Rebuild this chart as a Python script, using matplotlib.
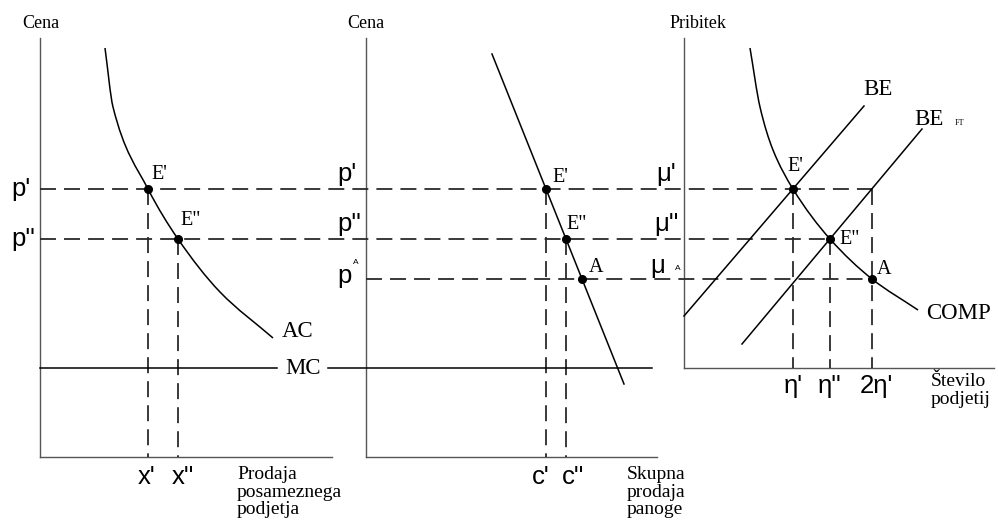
import numpy as np
import matplotlib
matplotlib.use("Agg")
import matplotlib.pyplot as plt
from matplotlib.path import Path
from matplotlib.patches import PathPatch

plt.rcParams['lines.scale_dashes'] = False
SERIF = ['Liberation Serif', 'DejaVu Serif']
SANS = ['Liberation Sans', 'DejaVu Sans']

# price / markup levels shared by the three panels
p1, p2, pA = 337, 287, 247
mc = 158
# quantities and numbers of firms
x1, x2 = 148, 178
c1, c2, cA = 546, 566, 582
n1, n2, n3 = 793, 830, 872

# panel frames
frame_x0 = [40, 366, 684]
frame_y0 = [69, 69, mc]
frame_x1 = [332, 657, 994]
frame_top = 488

# curves
ac_x = [105, 113, x1, x2, 220, 273]
ac_y = [478, 419, p1, p2, 234, 188]
comp_x = [750, 760, 773, n1, n2, n3, 918]
comp_y = [478, 419, 376, p1, p2, pA, 216]
dem_x = [492, 624]
dem_y = [472, 142]
be_x = [684, 864]
be_y = [210, 420]
beft_x = [742, 922]
beft_y = [182, 397]
mc_x = [[40, 277], [328, 652]]


def smooth(xs, ys):
    # monotone cubic (PCHIP tangents) written as Bezier segments
    x = np.asarray(xs, float)
    y = np.asarray(ys, float)
    h = np.diff(x)
    d = np.diff(y) / h
    m = np.empty_like(x)
    m[0], m[-1] = d[0], d[-1]
    for k in range(1, len(x) - 1):
        if d[k - 1] * d[k] <= 0:
            m[k] = 0.0
        else:
            w1 = 2 * h[k] + h[k - 1]
            w2 = h[k] + 2 * h[k - 1]
            m[k] = (w1 + w2) / (w1 / d[k - 1] + w2 / d[k])
    verts = [(x[0], y[0])]
    codes = [Path.MOVETO]
    for k in range(len(x) - 1):
        verts += [(x[k] + h[k] / 3, y[k] + m[k] * h[k] / 3),
                  (x[k + 1] - h[k] / 3, y[k + 1] - m[k + 1] * h[k] / 3),
                  (x[k + 1], y[k + 1])]
        codes += [Path.CURVE4] * 3
    return Path(verts, codes)


fig = plt.figure(figsize=(9.98, 5.26), dpi=100)
ax = fig.add_axes([0, 0, 1, 1])
ax.set_xlim(0, 998)
ax.set_ylim(0, 526)
ax.axis('off')

axcol = '#555555'
dcol = '#2a2a2a'
dash = dict(color=dcol, lw=1.3, linestyle=(0, (11.5, 5.8)))

# frames
for xa, ya, xb in zip(frame_x0, frame_y0, frame_x1):
    ax.plot([xa, xa], [ya, frame_top], color=axcol, lw=1.0)
    ax.plot([xa, xb], [ya, ya], color=axcol, lw=1.0)

# dashed guides
ax.plot([frame_x0[0], n3], [p1, p1], **dash)
ax.plot([frame_x0[0], n2], [p2, p2], **dash)
ax.plot([frame_x0[1], n3], [pA, pA], **dash)
for xv, yv, yb in [(x1, p1, 69), (x2, p2, 69), (c1, p1, 69), (c2, p2, 69),
                   (n1, p1, mc), (n2, p2, mc), (n3, p1, mc)]:
    ax.plot([xv, xv], [yv, yb], **dash)

# curves
ax.add_patch(PathPatch(smooth(ac_x, ac_y), fill=False, lw=1.1, color='black'))
ax.add_patch(PathPatch(smooth(comp_x, comp_y), fill=False, lw=1.1, color='black'))
ax.plot(dem_x, dem_y, color='black', lw=1.1)
ax.plot(be_x, be_y, color='black', lw=1.1)
ax.plot(beft_x, beft_y, color='black', lw=1.1)
for seg in mc_x:
    ax.plot(seg, [mc, mc], color='black', lw=1.1)

# equilibrium points
dots_x = [x1, x2, c1, c2, cA, n1, n2, n3]
dots_y = [p1, p2, p1, p2, pA, p1, p2, pA]
ax.plot(dots_x, dots_y, 'o', color='black', ms=5.5, zorder=5)

# axis titles
for xc, t in [(41, 'Cena'), (366, 'Cena'), (698, 'Pribitek')]:
    ax.text(xc, 503, t, family=SERIF, fontsize=13, ha='center', va='center')
ax.text(237, 60, 'Prodaja\nposameznega\npodjetja', family=SERIF, fontsize=14,
        ha='left', va='top', linespacing=1.05)
ax.text(627, 60, 'Skupna\nprodaja\npanoge', family=SERIF, fontsize=14,
        ha='left', va='top', linespacing=1.05)
ax.text(931, 153, 'Število\npodjetij', family=SERIF, fontsize=14,
        ha='left', va='top', linespacing=1.05)

# price tick labels
tk = dict(family=SANS, fontsize=18.5)
ax.text(11, p1, "p'", ha='left', va='center', **tk)
ax.text(11, p2, "p''", ha='left', va='center', **tk)
ax.text(337, p1 + 3, "p'", ha='left', va='bottom', **tk)
ax.text(337, p2 + 3, "p''", ha='left', va='bottom', **tk)
ax.text(337, pA - 9, "p", ha='left', va='bottom', **tk)
ax.text(353, 263, "A", family=SANS, fontsize=6, ha='left', va='center')
ax.text(656, p1 + 3, "μ'", ha='left', va='bottom', **tk)
ax.text(654, p2 + 3, "μ''", ha='left', va='bottom', **tk)
ax.text(650, pA + 1, "μ", ha='left', va='bottom', **tk)
ax.text(675, 257, "A", family=SANS, fontsize=6, ha='left', va='center')

# quantity tick labels
for xv, t in [(x1 - 1, "x'"), (x2 + 5, "x''"), (c1 - 5, "c'"), (c2 + 7, "c''")]:
    ax.text(xv, 49, t, ha='center', va='center', **tk)
for xv, t in [(n1, "η'"), (n2, "η''"), (n3 + 4, "2η'")]:
    ax.text(xv, 140, t, ha='center', va='center', **tk)

# curve and point labels
lb = dict(family=SERIF, fontsize=14.5)
for xl, yl, t in [(151, 342, "E'"), (180, 296, 'E"'), (552, 339, "E'"),
                  (566, 292, 'E"'), (589, 249, 'A'), (787, 350, "E'"),
                  (877, 247, 'A')]:
    ax.text(xl, yl, t, ha='left', va='bottom', **lb)
ax.text(839, 287, 'E"', ha='left', va='center', **lb)
big = dict(family=SERIF, fontsize=16.5)
ax.text(282, 184, 'AC', ha='left', va='bottom', **big)
ax.text(285, mc, 'MC', ha='left', va='center', **big)
ax.text(863, 426, 'BE', ha='left', va='bottom', **big)
ax.text(914, 396, 'BE', ha='left', va='bottom', **big)
ax.text(955, 403, 'FT', family=SERIF, fontsize=6, ha='left', va='center')
ax.text(926, 202, 'COMP', ha='left', va='bottom', **big)

plt.savefig('out.png', dpi=100)
